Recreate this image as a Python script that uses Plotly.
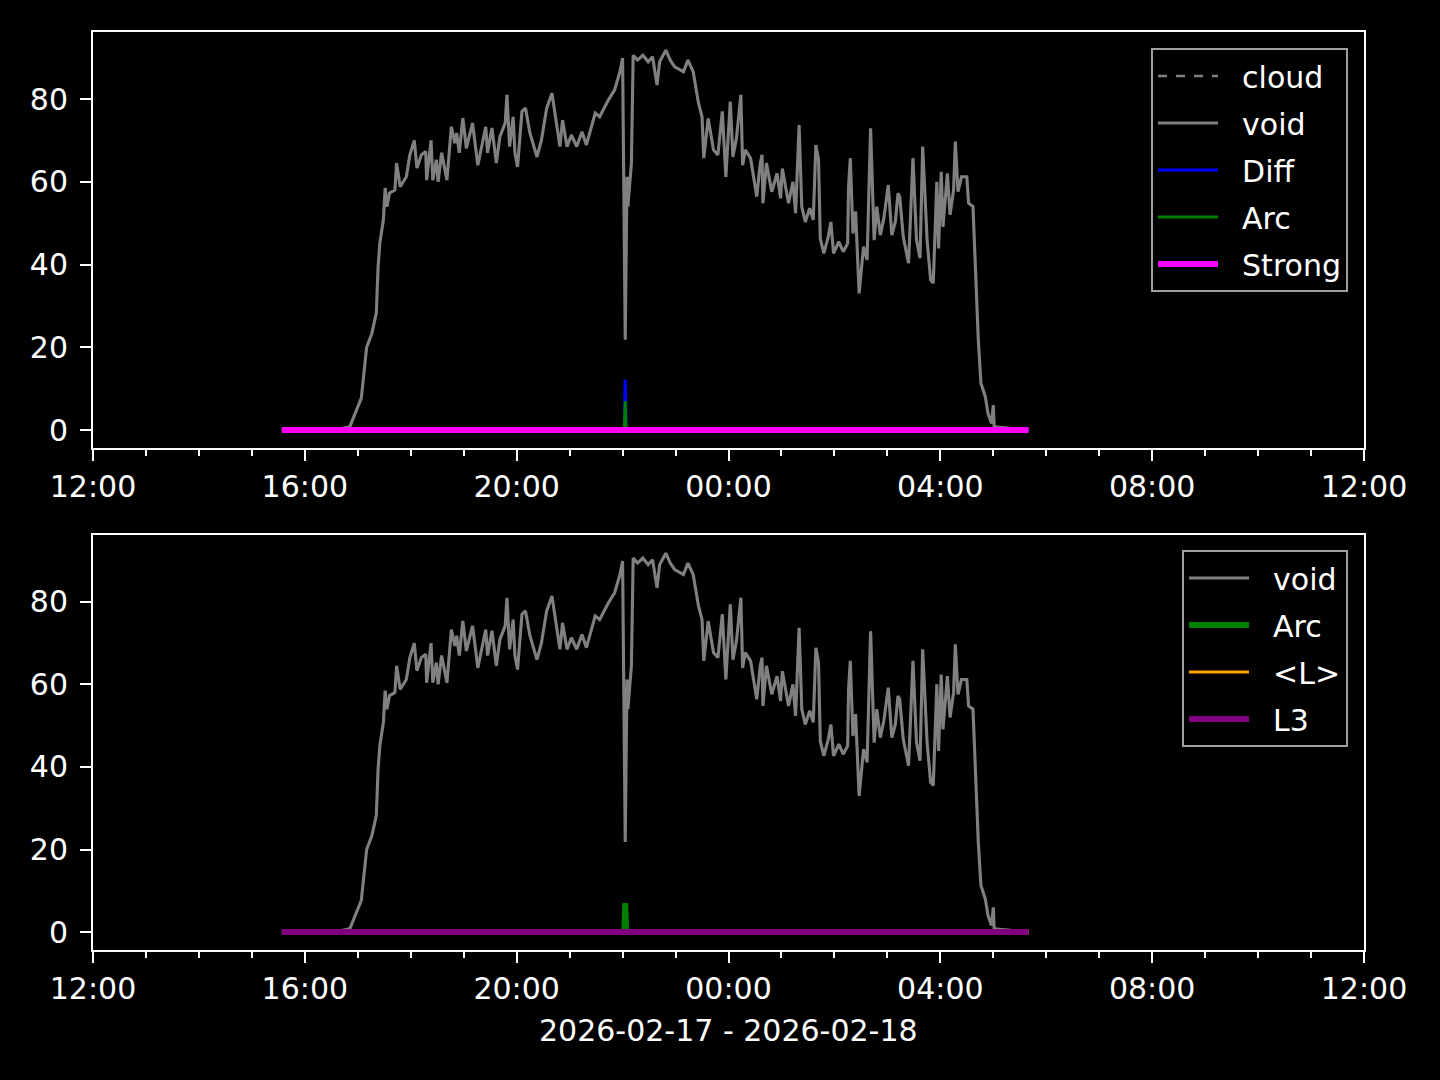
import plotly.graph_objects as go

# ---- data ----
void_times = [
    "15:34", "16:40", "16:51", "17:04", "17:10", "17:16", "17:21", "17:23", "17:25", "17:29",
    "17:31", "17:33", "17:36", "17:42", "17:44", "17:48", "17:55", "17:59", "18:04", "18:07",
    "18:12", "18:17", "18:18", "18:23", "18:25", "18:29", "18:31", "18:35", "18:41", "18:46",
    "18:50", "18:52", "18:55", "18:59", "19:03", "19:10", "19:16", "19:25", "19:27", "19:32",
    "19:37", "19:41", "19:47", "19:49", "19:52", "19:56", "19:58", "20:01", "20:06", "20:10",
    "20:15", "20:23", "20:28", "20:34", "20:40", "20:45", "20:49", "20:52", "20:57", "21:02",
    "21:08", "21:14", "21:19", "21:29", "21:34", "21:44", "21:51", "21:57", "22:00", "22:03",
    "22:05", "22:06", "22:10", "22:12", "22:17", "22:23", "22:29", "22:34", "22:39", "22:42",
    "22:49", "22:54", "22:59", "23:09", "23:14", "23:20", "23:26", "23:30", "23:32", "23:37",
    "23:43", "23:48", "23:53", "23:57", "00:02", "00:05", "00:09", "00:14", "00:16", "00:19",
    "00:25", "00:29", "00:32", "00:36", "00:38", "00:39", "00:43", "00:49", "00:55", "00:59",
    "01:01", "01:08", "01:13", "01:16", "01:20", "01:23", "01:27", "01:32", "01:36", "01:39",
    "01:42", "01:44", "01:48", "01:53", "01:56", "01:59", "02:05", "02:10", "02:15", "02:16",
    "02:18", "02:21", "02:24", "02:28", "02:33", "02:37", "02:41", "02:45", "02:48", "02:52",
    "02:56", "03:01", "03:05", "03:09", "03:12", "03:14", "03:18", "03:24", "03:28", "03:29",
    "03:33", "03:37", "03:40", "03:43", "03:45", "03:49", "03:52", "03:56", "03:58", "04:01",
    "04:03", "04:08", "04:11", "04:15", "04:17", "04:20", "04:24", "04:30", "04:32", "04:37",
    "04:39", "04:43", "04:46", "04:51", "04:54", "04:58", "05:00", "05:01", "05:40",
]
void_values = [
    0.0, 0.3, 0.8, 7.7, 20.0, 23.4, 28.3, 39.5, 45.2, 50.8,
    58.5, 54.0, 57.3, 58.0, 64.5, 58.8, 61.2, 66.5, 70.0, 63.3,
    66.5, 67.3, 60.4, 70.0, 60.4, 65.3, 60.0, 67.0, 60.4, 73.3,
    69.3, 71.8, 67.0, 75.4, 68.1, 74.2, 64.0, 73.3, 67.0, 73.0,
    64.5, 70.9, 74.2, 81.0, 68.5, 75.7, 67.0, 63.6, 77.0, 77.8,
    71.8, 66.0, 70.0, 77.8, 81.4, 74.2, 68.5, 74.9, 68.5, 71.3,
    68.5, 72.1, 68.9, 76.6, 75.7, 79.8, 82.2, 86.6, 89.9, 21.8,
    61.2, 54.0, 64.5, 90.6, 89.4, 90.6, 89.0, 90.2, 83.4, 89.0,
    91.8, 89.4, 87.8, 86.6, 89.4, 86.6, 79.0, 75.7, 65.7, 75.3,
    67.7, 66.5, 77.0, 61.2, 79.4, 66.0, 70.5, 81.0, 64.0, 67.7,
    65.7, 60.4, 56.4, 64.5, 66.5, 54.8, 64.5, 57.6, 62.0, 56.0,
    63.2, 54.8, 60.0, 52.4, 73.7, 54.0, 50.3, 53.6, 50.8, 68.9,
    65.3, 46.3, 42.7, 46.7, 50.3, 42.7, 45.5, 43.1, 45.1, 58.8,
    65.7, 47.5, 52.8, 33.0, 44.3, 41.1, 72.9, 45.9, 54.0, 47.1,
    51.2, 59.2, 47.1, 50.3, 57.2, 56.4, 46.7, 40.3, 58.0, 65.7,
    45.9, 41.5, 68.5, 54.0, 45.9, 36.3, 35.5, 60.0, 43.9, 62.4,
    49.1, 62.0, 52.0, 58.0, 69.7, 57.6, 61.2, 61.2, 54.8, 54.0,
    42.7, 21.8, 11.3, 8.0, 4.0, 1.6, 6.0, 0.8, 0.0,
]

event_times = ["15:34", "22:02", "22:03", "22:04", "05:40"]
cloud_values = [0, 0, 0, 0, 0]
diff_values = [0, 0, 12.2, 0, 0]
arc_values = [0, 0, 7.0, 0, 0]
strong_values = [0, 0, 0, 0, 0]
lavg_values = [0, 0, 0, 0, 0]
l3_values = [0, 0, 0, 0, 0]

x_ticks = ["12:00", "16:00", "20:00", "00:00", "04:00", "08:00", "12:00"]
y_ticks = [0, 20, 40, 60, 80]
x_label = "2026-02-17 - 2026-02-18"


def to_dt(hm):
    h = int(hm[:2])
    day = "2026-02-18" if h < 12 else "2026-02-17"
    return f"{day} {hm}:00"


vt = [to_dt(t) for t in void_times]
et = [to_dt(t) for t in event_times]

FONT = "DejaVu Sans"
FS = 30
GRAY = "#808080"
PAD = "\u00a0\u00a0"

fig = go.Figure()


def add(x, y, name, color, width, xa, ya, leg, group, dash="solid"):
    fig.add_trace(go.Scatter(x=x, y=y, name=PAD + name, mode="lines",
                             line=dict(color=color, width=width, dash=dash),
                             xaxis=xa, yaxis=ya, legend=leg, legendgroup=group))


# top panel
add(et, cloud_values, "cloud", GRAY, 2.6, "x", "y", "legend", "t1", dash="dash")
add(vt, void_values, "void", GRAY, 3.1, "x", "y", "legend", "t2")
add(et, diff_values, "Diff", "#0000ff", 3, "x", "y", "legend", "t3")
add(et, arc_values, "Arc", "#008000", 3, "x", "y", "legend", "t4")
add(et, strong_values, "Strong", "#ff00ff", 6, "x", "y", "legend", "t5")

# bottom panel
add(vt, void_values, "void", GRAY, 3.1, "x2", "y2", "legend2", "b1")
add(et, arc_values, "Arc", "#008000", 6, "x2", "y2", "legend2", "b2")
add(et, lavg_values, "<L>", "#ffa500", 3, "x2", "y2", "legend2", "b3")
add(et, l3_values, "L3", "#800080", 6, "x2", "y2", "legend2", "b4")

xdom = [93 / 1440, 1364 / 1440]
xcommon = dict(
    range=["2026-02-17 12:00:00", "2026-02-18 12:00:00"],
    domain=xdom,
    automargin=False,
    tickmode="array",
    tickvals=[to_dt(t) if i < len(x_ticks) - 1 else "2026-02-18 12:00:00"
              for i, t in enumerate(x_ticks)],
    ticktext=x_ticks,
    ticks="outside", ticklen=11, tickwidth=2.4, tickcolor="white",
    minor=dict(dtick=3600000, tick0="2026-02-17 12:00:00", ticks="outside",
               ticklen=6, tickwidth=1.8, tickcolor="white", showgrid=False),
    showline=True, mirror=True, linecolor="white", linewidth=2,
    showgrid=False, zeroline=False,
    tickfont=dict(family=FONT, size=FS, color="white"),
)
ycommon = dict(
    range=[-4.35, 96.2],
    automargin=False,
    tickmode="array", tickvals=y_ticks, ticktext=[str(v) for v in y_ticks],
    ticks="outside", ticklen=11, tickwidth=2.4, tickcolor="white",
    ticklabelstandoff=6,
    showline=True, mirror=True, linecolor="white", linewidth=2,
    showgrid=False, zeroline=False,
    tickfont=dict(family=FONT, size=FS, color="white"),
)

legend_common = dict(
    bgcolor="black", bordercolor="#a0a0a0", borderwidth=2,
    font=dict(family=FONT, size=FS, color="white"),
    xanchor="right", yanchor="top", xref="paper", yref="paper",
    tracegroupgap=5, itemwidth=60,
)

fig.update_layout(
    width=1440, height=1080,
    margin=dict(l=0, r=0, t=0, b=0, autoexpand=False),
    paper_bgcolor="black", plot_bgcolor="black",
    font=dict(family=FONT, size=FS, color="white"),
    showlegend=True,
    xaxis=dict(anchor="y", **xcommon),
    yaxis=dict(anchor="x", domain=[(1080 - 448) / 1080, (1080 - 32) / 1080], **ycommon),
    xaxis2=dict(anchor="y2", **xcommon),
    yaxis2=dict(anchor="x2", domain=[(1080 - 950) / 1080, (1080 - 535) / 1080], **ycommon),
    legend=dict(x=1348 / 1440, y=(1080 - 48) / 1080, **legend_common),
    legend2=dict(x=1348 / 1440, y=(1080 - 550) / 1080, **legend_common),
    annotations=[dict(text=x_label, xref="paper", yref="paper",
                      x=(xdom[0] + xdom[1]) / 2, y=(1080 - 1030) / 1080,
                      xanchor="center", yanchor="middle", showarrow=False,
                      font=dict(family=FONT, size=FS, color="white"))],
)

fig.write_html(
    "out.html",
    config={"displayModeBar": False},
    post_script="document.body.style.margin='0';document.body.style.background='black';"
                "window.dispatchEvent(new Event('resize'));",
)
